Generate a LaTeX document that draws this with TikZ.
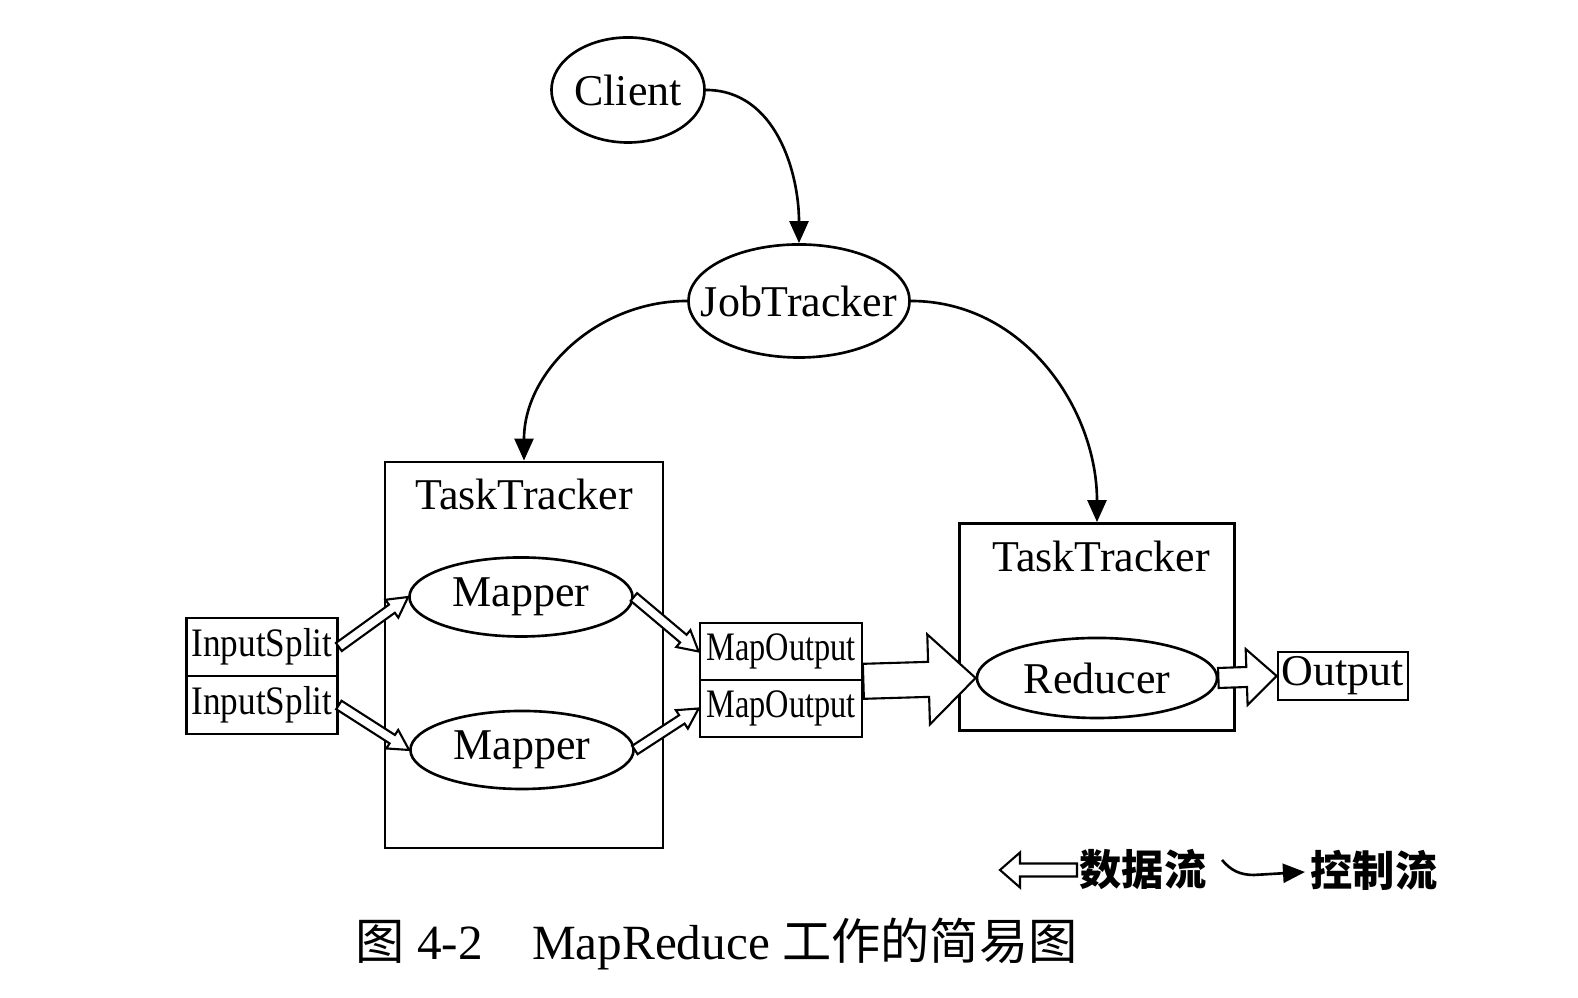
\documentclass[tikz,border=0pt]{standalone}
\usepackage{fontspec}
\setmainfont{Liberation Serif}
\newfontfamily\cjk{Noto Sans CJK SC}
\usetikzlibrary{shapes.geometric,arrows.meta,calc}

\newcommand{\lbl}{\fontsize{12.5pt}{14pt}\selectfont}
\newcommand{\slbl}{\fontsize{11.5pt}{13pt}\selectfont}
\newcommand{\nowidth}[1]{\makebox[0pt]{#1}}

% hollow data arrow: from, to, half shaft, half head, head length
\newcommand{\dataflow}[5]{%
  \draw[dataline] ($(#1)!#3!90:(#2)$) -- ($(#2)!#5!(#1)!#3!-90:(#1)$)
    -- ($(#2)!#5!(#1)!#4!-90:(#1)$) -- (#2)
    -- ($(#2)!#5!(#1)!#4!90:(#1)$) -- ($(#2)!#5!(#1)!#3!90:(#1)$)
    -- ($(#1)!#3!-90:(#2)$) -- cycle;}

\tikzset{
  proc/.style={ellipse, draw, line width=0.75pt, inner sep=0pt, font=\lbl},
  tracker/.style={rectangle, draw, line width=0.75pt, inner sep=0pt},
  split/.style={rectangle, draw, line width=0.75pt, inner sep=0pt, font=\slbl},
  ctrl/.style={line width=0.75pt, -{Triangle[length=0.22cm,width=0.19cm]}},
  dataline/.style={fill=white, line width=0.6pt, line join=miter}
}

\begin{document}
\begin{tikzpicture}[x=0.01cm,y=0.01cm]
\useasboundingbox (0,0) rectangle (1578,998);

\node[proc, minimum width=1.53cm, minimum height=1.05cm] (client) at (628,908) {Client};
\node[proc, minimum width=2.21cm, minimum height=1.13cm] (jt) at (799,697) {\nowidth{JobTracker}};

% the two task trackers
\node[tracker, minimum width=2.78cm, minimum height=3.86cm] (tt1) at (524,343) {};
\node[font=\lbl] (tt1lbl) at (524,504) {TaskTracker};
\node[tracker, minimum width=2.75cm, minimum height=2.07cm] (tt2) at (1097,371) {};
\node[font=\lbl] (tt2lbl) at (1101,442) {TaskTracker};

\node[proc, minimum width=2.23cm, minimum height=0.79cm] (map1) at (521,401) {Mapper};
\node[proc, minimum width=2.23cm, minimum height=0.78cm] (map2) at (522,248) {Mapper};
\node[proc, minimum width=2.40cm, minimum height=0.80cm] (red) at (1097,320) {Reducer};

\node[split, minimum width=1.51cm, minimum height=0.58cm] (in1) at (262,351) {\scalebox{0.87}[1]{InputSplit}};
\node[split, minimum width=1.51cm, minimum height=0.58cm] (in2) at (262,293) {\scalebox{0.87}[1]{InputSplit}};
\node[split, minimum width=1.62cm, minimum height=0.57cm] (mo1) at (781,346.5) {\scalebox{0.8}[1]{MapOutput}};
\node[split, minimum width=1.62cm, minimum height=0.57cm] (mo2) at (781,289.5) {\scalebox{0.8}[1]{MapOutput}};
\node[split, minimum width=1.30cm, minimum height=0.48cm, font=\lbl] (out) at (1343,322) {Output};

% control flow
\draw[ctrl] (client.east) to[out=0,in=90] (jt.north);
\draw[ctrl] (jt.west) to[out=180,in=90] (tt1.north);
\draw[ctrl] (jt.east) to[out=0,in=90] (tt2.north);

% data flow
\dataflow{in1.east}{map1.west}{0.05cm}{0.11cm}{0.2cm}
\dataflow{in2.east}{map2.west}{0.05cm}{0.11cm}{0.2cm}
\dataflow{map1.east}{mo1.west}{0.05cm}{0.11cm}{0.2cm}
\dataflow{map2.east}{mo2.west}{0.05cm}{0.11cm}{0.2cm}
\dataflow{mo1.south east}{red.west}{0.175cm}{0.45cm}{0.47cm}
\dataflow{red.east}{out.west}{0.1cm}{0.28cm}{0.3cm}

% legend
\coordinate (lgtail) at (1077,128);
\coordinate (lgtip) at (1000,128);
\dataflow{lgtail}{lgtip}{0.065cm}{0.175cm}{0.2cm}
\node[font=\cjk\bfseries\fontsize{12pt}{14pt}\selectfont] (lgdata) at (1143,128) {数据流};
\coordinate (ctA) at (1222,138);
\coordinate (ctM) at (1254,123);
\coordinate (ctB) at (1305,126);
\draw[ctrl] (ctA) to[out=-50,in=180] (ctM) -- (ctB);
\node[font=\cjk\bfseries\fontsize{12pt}{14pt}\selectfont] (lgctrl) at (1374,128) {控制流};

\node[anchor=west, inner sep=0pt, font=\fontsize{14pt}{16pt}\selectfont] (cap) at (355,54)
  {{\cjk 图} 4-2\quad MapReduce {\cjk 工作的简易图}};
\end{tikzpicture}
\end{document}
